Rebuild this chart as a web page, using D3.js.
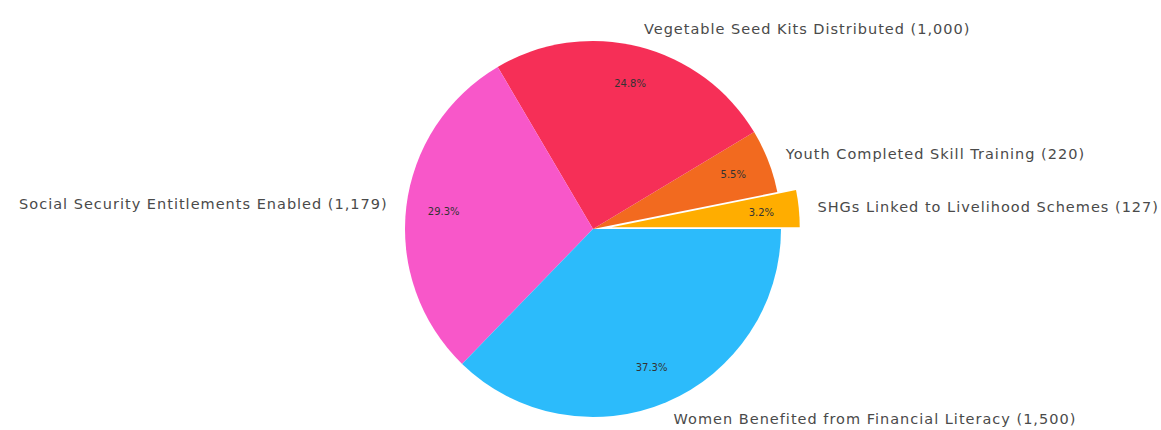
<!DOCTYPE html>
<html><head><meta charset="utf-8">
<script src="https://cdn.jsdelivr.net/npm/d3@7/dist/d3.min.js"></script>
<style>body{margin:0;background:#fff}svg{display:block}</style>
</head><body>
<svg id="c" width="1161" height="430"></svg>
<script>
const categories = ["SHGs Linked to Livelihood Schemes", "Youth Completed Skill Training", "Vegetable Seed Kits Distributed", "Social Security Entitlements Enabled", "Women Benefited from Financial Literacy"];
const values = [127, 220, 1000, 1179, 1500];
const colors = ["#FFAD00", "#F26A1F", "#F62F57", "#F857C9", "#2CBBFB"];
const explode = [0.1, 0, 0, 0, 0];

const svg = d3.select("#c");
const cx = 593, cy = 229, R = 188;
const total = d3.sum(values);
const fmt = d3.format(",");
const pie = d3.pie().sort(null).startAngle(Math.PI/2).endAngle(Math.PI/2 - 2*Math.PI);
const arcs = pie(values);
const arc = d3.arc().innerRadius(0).outerRadius(R);
const g = svg.append("g").attr("transform", `translate(${cx},${cy})`);

arcs.forEach((a, i) => {
  const mid = (a.startAngle + a.endAngle) / 2;
  const ux = Math.sin(mid), uy = -Math.cos(mid);
  const ox = ux * explode[i] * R, oy = uy * explode[i] * R;
  const sg = g.append("g").attr("transform", `translate(${ox},${oy})`);
  sg.append("path").attr("d", arc(a)).attr("fill", colors[i]);
  sg.append("text")
    .attr("x", ux * R * 0.8).attr("y", uy * R * 0.8)
    .attr("text-anchor", "middle").attr("dominant-baseline", "central")
    .attr("font-family", "DejaVu Sans").attr("font-size", 10).attr("fill", "#333")
    .text((values[i] / total * 100).toFixed(1) + "%");
  sg.append("text")
    .attr("x", ux * R * 1.1).attr("y", uy * R * 1.1)
    .attr("text-anchor", ux >= 0 ? "start" : "end").attr("dominant-baseline", "central")
    .attr("font-family", "DejaVu Sans").attr("font-size", 14.5).attr("letter-spacing", "1px").attr("fill", "#4a4a4a")
    .text(`${categories[i]} (${fmt(values[i])})`);
});
</script>
</body></html>
